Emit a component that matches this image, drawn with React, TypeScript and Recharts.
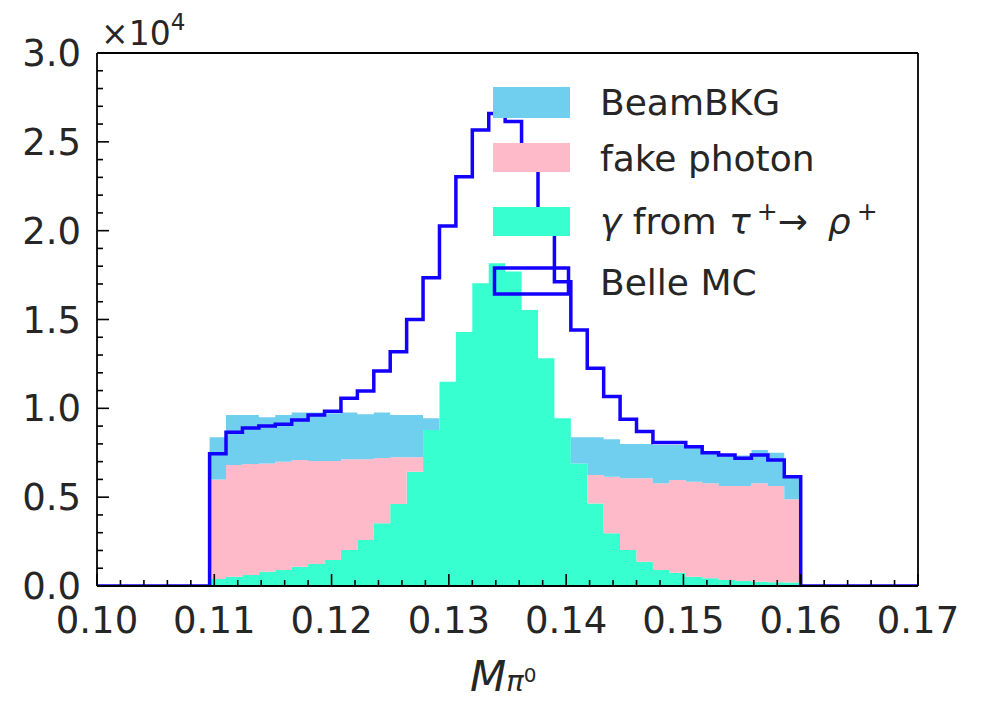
import React from 'react';
import { ComposedChart, Area, Line, XAxis, YAxis, ReferenceLine } from 'recharts';

// histogram binning (36 bins)
const binStart = 0.1096;
const binWidth = 0.0014;

// counts per bin
const gammaTau = [390, 520, 620, 800, 900, 1090, 1240, 1460, 2030, 2590, 3530, 4620, 6430, 8780, 11500, 14300, 17040, 18160, 17700, 15540, 12820, 9440, 6900, 4650, 2970, 2030, 1370, 900, 750, 520, 430, 340, 280, 240, 210, 190];
const fakePhoton = [5610, 6290, 6250, 6100, 6100, 6000, 5800, 5580, 5100, 4540, 3670, 2620, 810, 0, 0, 0, 0, 0, 0, 0, 0, 0, 0, 1600, 3180, 4030, 4690, 4880, 5220, 5350, 5350, 5290, 5350, 5540, 5420, 4690];
const beamBkg = [2370, 2820, 2760, 2600, 2630, 2670, 2720, 2690, 2630, 2540, 2560, 2390, 2390, 660, 0, 0, 0, 0, 0, 0, 0, 0, 1470, 2120, 2110, 1930, 1930, 2160, 1970, 1950, 1670, 1740, 1720, 1870, 1870, 1320];
const belleMC = [7450, 8650, 8900, 9000, 9100, 9350, 9630, 9830, 10570, 10980, 12100, 13190, 15000, 17350, 20260, 23040, 25670, 26600, 26140, 23700, 20400, 17130, 14410, 12250, 10660, 9380, 8690, 8070, 8070, 7840, 7500, 7370, 7190, 7370, 7090, 6150];

const xMajorTicks = [0.1, 0.11, 0.12, 0.13, 0.14, 0.15, 0.16, 0.17];
const xMinorStep = 0.002;
const yTickStep = 1000;
const yMajorEvery = 5000;

const xTicks = Array.from({ length: 36 }, (_, i) => +(0.1 + i * xMinorStep).toFixed(3));
const yTicks = Array.from({ length: 31 }, (_, i) => i * yTickStep);

const rows: any[] = [{ x: 0.1, g: 0, p: 0, b: 0, mc: 0 }];
gammaTau.forEach((g, i) => {
  rows.push({ x: binStart + i * binWidth, g, p: fakePhoton[i], b: beamBkg[i], mc: belleMC[i] });
});
rows.push({ x: binStart + gammaTau.length * binWidth, g: 0, p: 0, b: 0, mc: 0 });
rows.push({ x: 0.17, g: 0, p: 0, b: 0, mc: 0 });

const FONT = 'DejaVu Sans';
const TEXT = '#262626';
const TICK_FS = 37;
const LEG_FS = 36;
const MC_BLUE = '#1400FF';

const XTick = (props: any) => {
  const { x, y, payload } = props;
  const v = payload.value;
  const major = xMajorTicks.some(t => Math.abs(t - v) < 1e-6);
  return (
    <g>
      <line x1={x} x2={x} y1={y} y2={y - (major ? 12 : 6)} stroke="#000" strokeWidth={1.6} />
      {major && (
        <text x={x} y={y + 47} textAnchor="middle" fontFamily={FONT} fontSize={TICK_FS} fill={TEXT}>
          {v.toFixed(2)}
        </text>
      )}
    </g>
  );
};

const YTick = (props: any) => {
  const { x, y, payload } = props;
  const v = payload.value;
  const major = v % yMajorEvery === 0;
  return (
    <g>
      <line x1={x} x2={x + (major ? 12 : 6)} y1={y} y2={y} stroke="#000" strokeWidth={1.6} />
      {major && (
        <text x={x - 16} y={y + 13} textAnchor="end" fontFamily={FONT} fontSize={TICK_FS} fill={TEXT}>
          {(v / 10000).toFixed(1)}
        </text>
      )}
    </g>
  );
};

const legendItems = [
  { label: 'BeamBKG', color: '#70CEEE', y: 87, h: 31 },
  { label: 'fake photon', color: '#FFBACA', y: 143, h: 29 },
  { label: 'gamma', color: '#38FFD0', y: 207, h: 29 },
];

export default function App() {
  return (
    <div style={{ position: 'absolute', left: 0, top: 0, width: 991, height: 703, background: '#fff' }}>
      <ComposedChart width={991} height={703} data={rows} margin={{ top: 53, right: 73, bottom: 0, left: 0 }}>
        <Area type="stepAfter" dataKey="g" stackId="s" stroke="none" fill="#38FFD0" fillOpacity={1} isAnimationActive={false} />
        <Area type="stepAfter" dataKey="p" stackId="s" stroke="none" fill="#FFBACA" fillOpacity={1} isAnimationActive={false} />
        <Area type="stepAfter" dataKey="b" stackId="s" stroke="none" fill="#70CEEE" fillOpacity={1} isAnimationActive={false} />
        <XAxis
          dataKey="x"
          type="number"
          domain={[0.1, 0.17]}
          ticks={xTicks}
          interval={0}
          tick={<XTick />}
          tickSize={0}
          tickMargin={0}
          tickLine={false}
          axisLine={{ stroke: '#000', strokeWidth: 1.8 }}
          height={117}
          allowDataOverflow
        />
        <YAxis
          type="number"
          domain={[0, 30000]}
          ticks={yTicks}
          interval={0}
          tick={<YTick />}
          tickSize={0}
          tickMargin={0}
          tickLine={false}
          axisLine={{ stroke: '#000', strokeWidth: 1.8 }}
          width={97}
          allowDataOverflow
        />
        <ReferenceLine y={30000} stroke="#000" strokeWidth={1.8} ifOverflow="extendDomain" />
        <ReferenceLine x={0.17} stroke="#000" strokeWidth={1.8} ifOverflow="extendDomain" />
        <Line type="stepAfter" dataKey="mc" stroke={MC_BLUE} strokeWidth={3.5} dot={false} isAnimationActive={false} />
      </ComposedChart>
      <svg width={991} height={703} style={{ position: 'absolute', left: 0, top: 0, pointerEvents: 'none' }}>
        <text x={101} y={45} fontFamily={FONT} fontSize={33} fill={TEXT}>
          ×10
          <tspan fontSize={23} dy={-15}>4</tspan>
        </text>
        {legendItems.map(it => (
          <rect key={it.label} x={493} y={it.y} width={77} height={it.h} fill={it.color} />
        ))}
        <rect x={494.5} y={268} width={74} height={26} fill="none" stroke={MC_BLUE} strokeWidth={3.5} />
        <text x={600} y={115} fontFamily={FONT} fontSize={LEG_FS} fill={TEXT}>BeamBKG</text>
        <text x={600} y={171} fontFamily={FONT} fontSize={LEG_FS} fill={TEXT}>fake photon</text>
        <text x={600} y={234} fontFamily={FONT} fontSize={LEG_FS} fill={TEXT}>
          <tspan fontStyle="italic">γ</tspan>
          <tspan> from </tspan>
          <tspan fontStyle="italic" dx={1}>τ</tspan>
          <tspan fontSize={25} dx={6} dy={-14}>+</tspan>
          <tspan dy={14}>→</tspan>
          <tspan fontStyle="italic" dx={20}>ρ</tspan>
          <tspan fontSize={25} dx={6} dy={-14}>+</tspan>
        </text>
        <text x={600} y={295} fontFamily={FONT} fontSize={LEG_FS} fill={TEXT}>Belle MC</text>
        <text x={470} y={691} fontFamily={FONT} fontSize={42} fontStyle="italic" fill={TEXT}>
          M
          <tspan fontSize={29}>π</tspan>
          <tspan fontSize={20} fontStyle="normal" dy={-9}>0</tspan>
        </text>
      </svg>
    </div>
  );
}
